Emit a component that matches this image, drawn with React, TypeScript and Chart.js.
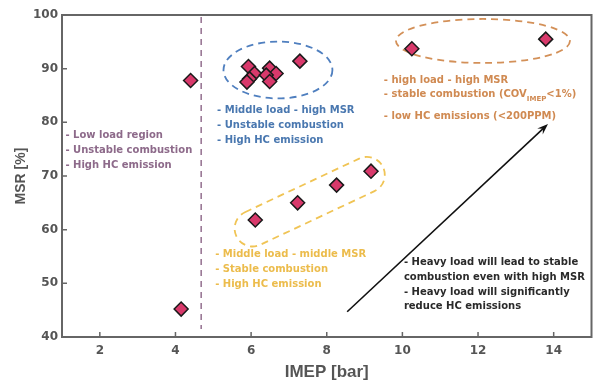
import React, { useEffect, useRef } from 'react';
import { Chart, registerables } from 'chart.js';

Chart.register(...registerables);

// ---- data ----
const IMEP = [4.15, 4.4, 5.93, 6.09, 5.96, 5.89, 6.49, 6.66, 6.4, 6.49, 7.29, 6.11, 7.23, 8.26, 9.17, 10.25, 13.79];
const MSR = [45.2, 87.8, 90.4, 89.1, 88.1, 87.5, 90.1, 89.1, 88.8, 87.6, 91.4, 61.8, 65.0, 68.3, 70.9, 93.7, 95.5];
const X_TICKS = [2, 4, 6, 8, 10, 12, 14];
const Y_TICKS = [40, 50, 60, 70, 80, 90, 100];
const X_MIN = 1;
const X_MAX = 15;
const Y_MIN = 40;
const Y_MAX = 100;
const X_TITLE = 'IMEP [bar]';
const Y_TITLE = 'MSR [%]';
const LOW_LOAD_LIMIT = 4.68;

const LOW_LOAD_NOTES = ['- Low load region', '- Unstable combustion', '- High HC emission'];
const MID_HIGH_NOTES = ['- Middle load - high MSR', '- Unstable combustion', '- High HC emission'];
const MID_MID_NOTES = ['- Middle load - middle MSR', '- Stable combustion', '- High HC emission'];
const HIGH_NOTE_1 = '- high load - high MSR';
const HIGH_NOTE_2 = ['- stable combustion (COV', 'IMEP', '<1%)'];
const HIGH_NOTE_3 = '- low HC emissions (<200PPM)';
const TREND_NOTES = ['- Heavy load will lead to stable', 'combustion even with high MSR', '- Heavy load will significantly', 'reduce HC emissions'];

// ---- styles ----
const AXIS_COLOR = '#666666';
const TEXT_COLOR = '#555555';
const PURPLE = '#8d6a8a';
const BLUE = '#4a78b0';
const ORANGE = '#d08a52';
const YELLOW = '#ecbc4c';
const NOTE_FONT = 'bold 10px "DejaVu Sans"';

const annotations = {
  id: 'annotations',
  beforeDatasetsDraw(chart: any) {
    const { ctx, scales, chartArea } = chart;
    const x = scales.x;
    const y = scales.y;
    ctx.save();
    // low-load boundary
    ctx.strokeStyle = '#9a7896';
    ctx.lineWidth = 1.6;
    ctx.setLineDash([6, 5]);
    const vx = x.getPixelForValue(LOW_LOAD_LIMIT);
    ctx.beginPath();
    ctx.moveTo(vx, chartArea.top + 2);
    ctx.lineTo(vx, y.getPixelForValue(41.5));
    ctx.stroke();

    const ellipse = (cx: number, cy: number, rx: number, ry: number, color: string) => {
      const px = x.getPixelForValue(cx);
      const py = y.getPixelForValue(cy);
      const prx = Math.abs(x.getPixelForValue(cx + rx) - px);
      const pry = Math.abs(y.getPixelForValue(cy + ry) - py);
      ctx.strokeStyle = color;
      ctx.lineWidth = 1.8;
      ctx.setLineDash([7, 5]);
      ctx.beginPath();
      ctx.ellipse(px, py, prx, pry, 0, 0, Math.PI * 2);
      ctx.stroke();
    };
    ellipse(6.71, 89.75, 1.44, 5.3, '#4f7fbf');
    ellipse(12.13, 95.16, 2.3, 4.1, '#d39058');

    // capsule around middle-load points
    const x1 = x.getPixelForValue(6.04), y1 = y.getPixelForValue(60.22);
    const x2 = x.getPixelForValue(9.06), y2 = y.getPixelForValue(70.21);
    const L = Math.hypot(x2 - x1, y2 - y1);
    const ang = Math.atan2(y2 - y1, x2 - x1);
    const r = 18;
    ctx.translate((x1 + x2) / 2, (y1 + y2) / 2);
    ctx.rotate(ang);
    ctx.strokeStyle = '#f0c455';
    ctx.lineWidth = 1.8;
    ctx.setLineDash([7, 5]);
    ctx.beginPath();
    (ctx as any).roundRect(-L / 2 - r, -r, L + 2 * r, 2 * r, r);
    ctx.stroke();
    ctx.restore();
  },
  afterDatasetsDraw(chart: any) {
    const { ctx, scales } = chart;
    const x = scales.x;
    const y = scales.y;
    ctx.save();
    ctx.font = NOTE_FONT;
    ctx.textBaseline = 'middle';
    ctx.textAlign = 'left';
    const block = (lines: string[], dx: number, dy: number, color: string, gap: number) => {
      const px = x.getPixelForValue(dx);
      const py = y.getPixelForValue(dy);
      ctx.fillStyle = color;
      lines.forEach((t, i) => ctx.fillText(t, px, py + i * gap));
    };
    block(LOW_LOAD_NOTES, 1.09, 77.5, PURPLE, 15);
    block(MID_HIGH_NOTES, 5.1, 82.3, BLUE, 15.3);
    block(MID_MID_NOTES, 5.05, 55.3, YELLOW, 15);
    block(TREND_NOTES, 10.04, 53.85, '#2a2a2a', 14.7);

    // high load notes with subscript
    const hx = x.getPixelForValue(9.51);
    const hy = y.getPixelForValue(87.9);
    ctx.fillStyle = ORANGE;
    ctx.fillText(HIGH_NOTE_1, hx, hy);
    ctx.fillText(HIGH_NOTE_2[0], hx, hy + 14.5);
    let w = ctx.measureText(HIGH_NOTE_2[0]).width;
    ctx.font = 'bold 7px "DejaVu Sans"';
    ctx.fillText(HIGH_NOTE_2[1], hx + w, hy + 19.5);
    const w2 = ctx.measureText(HIGH_NOTE_2[1]).width;
    ctx.font = NOTE_FONT;
    ctx.fillText(HIGH_NOTE_2[2], hx + w + w2, hy + 14.5);
    ctx.fillText(HIGH_NOTE_3, hx, hy + 36);

    // trend arrow
    const ax1 = x.getPixelForValue(8.54), ay1 = y.getPixelForValue(44.7);
    const ax2 = x.getPixelForValue(13.85), ay2 = y.getPixelForValue(79.7);
    const a = Math.atan2(ay2 - ay1, ax2 - ax1);
    ctx.strokeStyle = '#111';
    ctx.fillStyle = '#111';
    ctx.lineWidth = 1.6;
    ctx.beginPath();
    ctx.moveTo(ax1, ay1);
    ctx.lineTo(ax2 - 6 * Math.cos(a), ay2 - 6 * Math.sin(a));
    ctx.stroke();
    const hl = 11, hw = 4;
    ctx.beginPath();
    ctx.moveTo(ax2, ay2);
    ctx.lineTo(ax2 - hl * Math.cos(a) + hw * Math.sin(a), ay2 - hl * Math.sin(a) - hw * Math.cos(a));
    ctx.lineTo(ax2 - 7 * Math.cos(a), ay2 - 7 * Math.sin(a));
    ctx.lineTo(ax2 - hl * Math.cos(a) - hw * Math.sin(a), ay2 - hl * Math.sin(a) + hw * Math.cos(a));
    ctx.closePath();
    ctx.fill();
    ctx.restore();
  },
  afterDraw(chart: any) {
    const { ctx, scales, chartArea } = chart;
    const { left, right, top, bottom } = chartArea;
    ctx.save();
    ctx.strokeStyle = AXIS_COLOR;
    ctx.lineWidth = 2;
    ctx.setLineDash([]);
    ctx.strokeRect(left, top, right - left, bottom - top);
    ctx.lineWidth = 1.5;
    ctx.beginPath();
    X_TICKS.forEach((v) => {
      const px = scales.x.getPixelForValue(v);
      ctx.moveTo(px, bottom);
      ctx.lineTo(px, bottom - 5);
    });
    Y_TICKS.forEach((v) => {
      const py = scales.y.getPixelForValue(v);
      ctx.moveTo(left, py);
      ctx.lineTo(left + 5, py);
    });
    ctx.stroke();
    ctx.restore();
  },
};

export default function App() {
  const ref = useRef<HTMLCanvasElement | null>(null);
  useEffect(() => {
    document.body.style.margin = '0';
    if (!ref.current) return;
    const chart = new Chart(ref.current, {
      type: 'scatter',
      data: {
        datasets: [
          {
            label: 'MSR',
            data: IMEP.map((v, i) => ({ x: v, y: MSR[i] })),
            pointStyle: 'rectRot',
            pointRadius: 7,
            pointHoverRadius: 7,
            backgroundColor: '#d8396b',
            borderColor: '#1a1a1a',
            borderWidth: 1.5,
          },
        ],
      },
      options: {
        responsive: false,
        maintainAspectRatio: false,
        animation: false,
        layout: { padding: { top: 15, right: 5, left: 0, bottom: 0 } },
        plugins: { legend: { display: false }, tooltip: { enabled: false } },
        scales: {
          x: {
            type: 'linear',
            min: X_MIN,
            max: X_MAX,
            afterBuildTicks: (s: any) => {
              s.ticks = X_TICKS.map((v) => ({ value: v }));
            },
            afterFit: (s: any) => {
              s.height = 46;
            },
            grid: { display: false, drawTicks: false },
            border: { display: false },
            ticks: {
              padding: 7,
              color: TEXT_COLOR,
              font: { family: '"DejaVu Sans"', size: 12, weight: 'bold' },
            },
            title: {
              display: true,
              text: X_TITLE,
              color: TEXT_COLOR,
              padding: { top: 0, bottom: 0 },
              font: { family: '"Liberation Sans"', size: 17, weight: 'bold' },
            },
          },
          y: {
            type: 'linear',
            min: Y_MIN,
            max: Y_MAX,
            afterBuildTicks: (s: any) => {
              s.ticks = Y_TICKS.map((v) => ({ value: v }));
            },
            afterFit: (s: any) => {
              s.width = 62;
            },
            grid: { display: false, drawTicks: false },
            border: { display: false },
            ticks: {
              padding: 4,
              color: TEXT_COLOR,
              font: { family: '"DejaVu Sans"', size: 12, weight: 'bold' },
            },
            title: {
              display: true,
              text: Y_TITLE,
              color: TEXT_COLOR,
              padding: { top: 13, bottom: 0 },
              font: { family: '"Liberation Sans"', size: 14, weight: 'bold' },
            },
          },
        },
      },
      plugins: [annotations],
    });
    return () => chart.destroy();
  }, []);
  return (
    <div style={{ width: 600, height: 383 }}>
      <canvas ref={ref} width={600} height={383} style={{ display: 'block' }} />
    </div>
  );
}
